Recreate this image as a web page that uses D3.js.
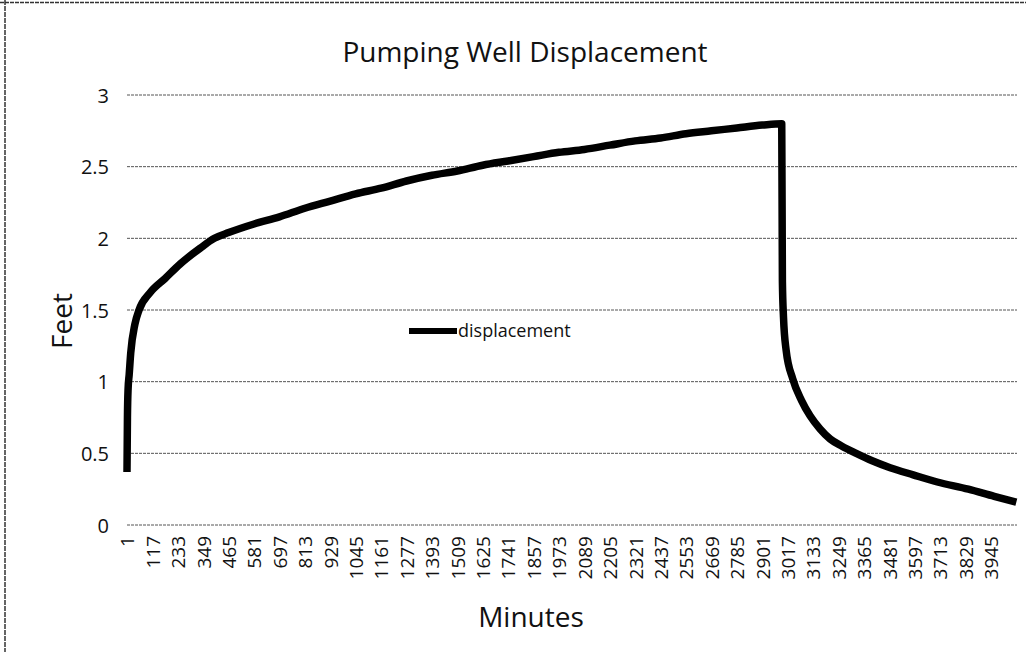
<!DOCTYPE html>
<html>
<head>
<meta charset="utf-8">
<script src="https://cdn.jsdelivr.net/npm/d3@7"></script>
<style>
    body { margin: 0; background: #fff; }
    svg text { font-family: "Open Sans", sans-serif; fill: #111; }
</style>
</head>
<body>
<svg id="chart" width="1026" height="652"></svg>
<script>
// Values (minutes since start, feet of displacement)
const minutes = [1, 3, 6, 11, 18, 37, 56, 106, 175, 243, 334, 400, 465, 581, 697, 813, 929,
    1045, 1161, 1277, 1393, 1509, 1625, 1741, 1857, 1973, 2089, 2205, 2321, 2437, 2553,
    2669, 2785, 2901, 2990, 2993, 2998, 3010, 3040, 3080, 3120, 3165, 3211, 3265, 3330,
    3400, 3485, 3590, 3700, 3842, 3960, 4061];
const feet = [0.37, 0.75, 0.95, 1.05, 1.2, 1.4, 1.5, 1.62, 1.72, 1.82, 1.93, 2.0, 2.04, 2.1,
    2.15, 2.21, 2.26, 2.31, 2.35, 2.4, 2.44, 2.47, 2.51, 2.54, 2.57, 2.6, 2.62, 2.65, 2.68,
    2.7, 2.73, 2.75, 2.77, 2.79, 2.8, 1.7, 1.45, 1.22, 1.02, 0.87, 0.76, 0.67, 0.6, 0.55, 0.5,
    0.45, 0.4, 0.35, 0.3, 0.25, 0.2, 0.16];

const xTickLabels = [1, 117, 233, 349, 465, 581, 697, 813, 929, 1045, 1161, 1277, 1393, 1509,
    1625, 1741, 1857, 1973, 2089, 2205, 2321, 2437, 2553, 2669, 2785, 2901, 3017, 3133, 3249,
    3365, 3481, 3597, 3713, 3829, 3945];
const yTickLabels = [0, 0.5, 1, 1.5, 2, 2.5, 3];

const seriesName = 'displacement';

const svg = d3.select('#chart');
const plot = {left: 127, right: 1017, top: 95, bottom: 525};

const x = d3.scaleLinear().domain([1, 4064]).range([plot.left, plot.right]);
const y = d3.scaleLinear().domain([0, 3]).range([plot.bottom, plot.top]);

// scanned page edges
svg.append('line')
    .attr('x1', 0).attr('x2', 1026).attr('y1', 2.5).attr('y2', 2.5)
    .style('stroke', '#333').style('stroke-width', 1.5).style('stroke-dasharray', '4 1');
svg.append('line')
    .attr('x1', 5).attr('x2', 5).attr('y1', 0).attr('y2', 652)
    .style('stroke', '#333').style('stroke-width', 1.5).style('stroke-dasharray', '5 1');

// horizontal grid lines
svg.selectAll('line.grid')
    .data(yTickLabels)
    .enter()
    .append('line')
    .attr('class', 'grid')
    .attr('x1', plot.left)
    .attr('x2', plot.right)
    .attr('y1', d => y(d))
    .attr('y2', d => y(d))
    .style('stroke', '#555')
    .style('stroke-width', 1)
    .style('stroke-dasharray', '3 1');

// y axis labels (no axis line)
const yAxis = d3.axisLeft(y)
    .tickValues(yTickLabels)
    .tickSize(0)
    .tickPadding(0)
    .tickFormat(d3.format('~g'));
const yG = svg.append('g')
    .attr('transform', 'translate(109,0)')
    .call(yAxis);
yG.select('.domain').remove();
yG.selectAll('text')
    .style('font-size', '20px')
    .style('font-family', '"Open Sans", sans-serif')
    .attr('dy', '0.35em');

// x axis labels, rotated like the spreadsheet
const xAxis = d3.axisBottom(x)
    .tickValues(xTickLabels)
    .tickSize(0)
    .tickPadding(0)
    .tickFormat(d3.format('d'));
const xG = svg.append('g')
    .attr('transform', `translate(0,${plot.bottom})`)
    .call(xAxis);
xG.select('.domain').remove();
xG.selectAll('.tick text')
    .style('font-size', '19px')
    .style('font-family', '"Open Sans", sans-serif')
    .style('text-anchor', 'end')
    .attr('x', 0)
    .attr('y', 0)
    .attr('dy', '0.36em')
    .attr('transform', 'translate(0,11) rotate(-90)');

// the series
const line = d3.line()
    .x((d, i) => x(minutes[i]))
    .y(d => y(d))
    .curve(d3.curveMonotoneX);

svg.append('path')
    .datum(feet)
    .attr('d', line)
    .style('fill', 'none')
    .style('stroke', '#000')
    .style('stroke-width', 7.5)
    .style('stroke-linejoin', 'round')
    .style('stroke-linecap', 'butt');

// legend
svg.append('line')
    .attr('x1', 409).attr('x2', 457)
    .attr('y1', 331).attr('y2', 331)
    .style('stroke', '#000')
    .style('stroke-width', 6);
svg.append('text')
    .attr('x', 458)
    .attr('y', 337)
    .style('font-size', '18px')
    .text(seriesName);

// titles
svg.append('text')
    .attr('x', 525)
    .attr('y', 62)
    .attr('text-anchor', 'middle')
    .style('font-size', '28px')
    .text('Pumping Well Displacement');

svg.append('text')
    .attr('transform', 'translate(72,321) rotate(-90)')
    .attr('text-anchor', 'middle')
    .style('font-size', '28px')
    .text('Feet');

svg.append('text')
    .attr('x', 531)
    .attr('y', 627)
    .attr('text-anchor', 'middle')
    .style('font-size', '28px')
    .text('Minutes');
</script>
</body>
</html>
